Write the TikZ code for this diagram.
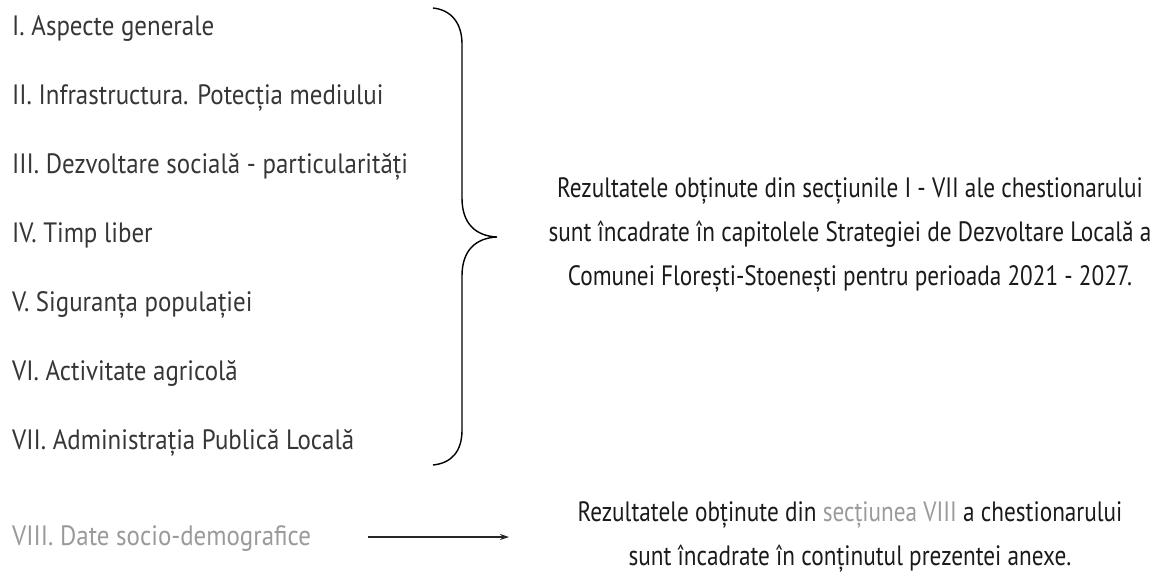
\documentclass[tikz,border=0pt]{standalone}
\usepackage{fontspec}
\setmainfont{PT Sans}
\newfontfamily\leftfont[FakeStretch=0.89]{PT Sans}
\newfontfamily\rightfont[FakeStretch=0.83]{PT Sans}
\usetikzlibrary{arrows.meta}
\definecolor{lefttxt}{HTML}{363636}
\definecolor{lighttxt}{HTML}{9A9A9A}
\definecolor{righttxt}{HTML}{1A1A1A}
\begin{document}
\begin{tikzpicture}[x=1pt,y=-1pt,
  item/.style={anchor=base west, text=lefttxt, font=\leftfont\fontsize{28}{32}\selectfont, inner sep=0pt},
  result/.style={align=center, text=righttxt, font=\rightfont\fontsize{28}{44}\selectfont, inner sep=0pt},
  bracepath/.style={line width=1.4pt, black},
  arrowline/.style={line width=1.2pt, black!85, -{Stealth[length=9pt,width=6pt]}}]
\useasboundingbox (0,0) rectangle (1170,574);
\node[item] (i1) at (12,35) {I. Aspecte generale};
\node[item] (i2) at (12,104) {II. Infrastructura. Potecția mediului};
\node[item] (i3) at (12,173) {III. Dezvoltare socială - particularități};
\node[item] (i4) at (12,242) {IV. Timp liber};
\node[item] (i5) at (12,311) {V. Siguranța populației};
\node[item] (i6) at (12,380) {VI. Activitate agricolă};
\node[item] (i7) at (12,449) {VII. Administrația Publică Locală};
\node[item, text=lighttxt] (i8) at (12,545) {VIII. Date socio-demografice};
\node[result] (r1) at (850,235) {Rezultatele obținute din secțiunile I - VII ale chestionarului\\
sunt încadrate în capitolele Strategiei de Dezvoltare Locală a\\
Comunei Florești-Stoenești pentru perioada 2021 - 2027.};
\node[result] (r2) at (850,537) {Rezultatele obținute din \textcolor{lighttxt}{secțiunea VIII} a chestionarului\\
sunt încadrate în conținutul prezentei anexe.};
\coordinate (b0) at (433,8);
\coordinate (bt) at (497,237);
\coordinate (b1) at (433,465);
\draw[bracepath] (b0) .. controls (452,10) and (462,24) .. (462,44) -- (462,198)
  .. controls (462,224) and (476,236) .. (bt)
  .. controls (476,238) and (462,250) .. (462,276) -- (462,430)
  .. controls (462,451) and (452,463) .. (b1);
\coordinate (a1) at (368,537);
\coordinate (a2) at (509,537);
\draw[arrowline] (a1) -- (a2);
\end{tikzpicture}
\end{document}
